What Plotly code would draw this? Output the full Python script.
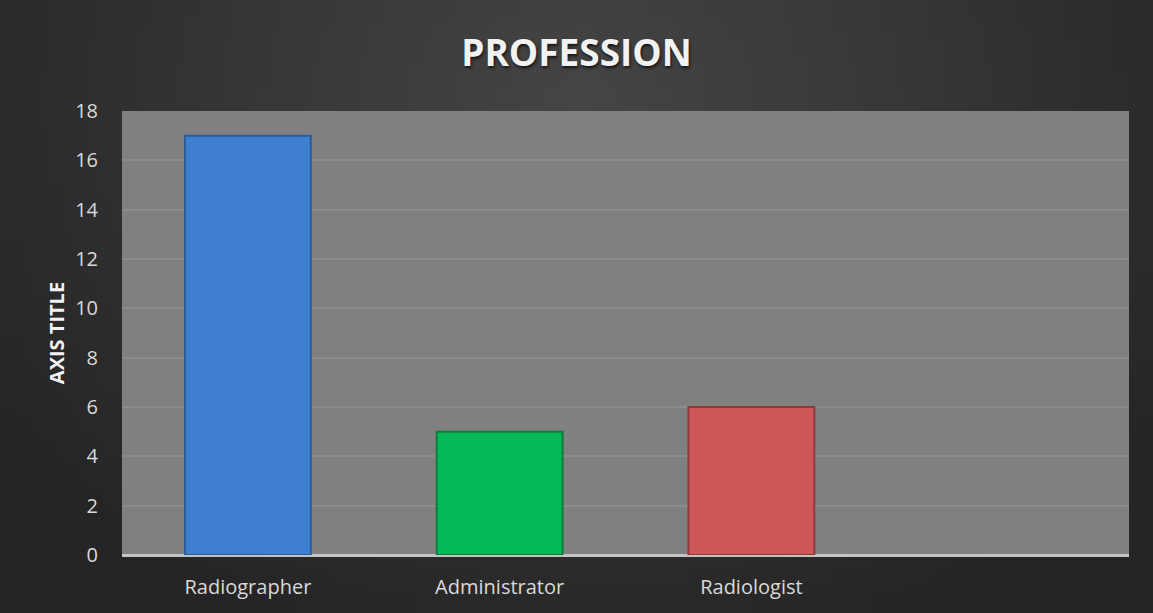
import base64, zlib, struct
import plotly.graph_objects as go

# ---- data ----
categories = ["Radiographer", "Administrator", "Radiologist", " "]
counts = [17, 5, 6, None]
bar_colors = ["#3f7fcf", "#05b956", "#cd5656", "#808080"]
line_colors = ["#2c5d99", "#0b7c3d", "#8e3a3a", "#808080"]
y_ticks = [0, 2, 4, 6, 8, 10, 12, 14, 16, 18]
title_text = "PROFESSION"
y_title = "AXIS TITLE"


# ---- background radial gradient (style only) ----
def gradient_png(w=96, h=52):
    rows = []
    cx, cy = w * 0.5, h * 0.15
    for j in range(h):
        row = bytearray([0])
        for i in range(w):
            dx = (i - cx) / (w * 0.62)
            dy = (j - cy) / (h * 0.95)
            d = min(1.0, (dx * dx + dy * dy) ** 0.5)
            v = int(0x46 - (0x46 - 0x25) * d)
            row += bytes([v, v, v])
        rows.append(bytes(row))
    raw = b"".join(rows)

    def chunk(t, data):
        c = struct.pack(">I", len(data)) + t + data
        return c + struct.pack(">I", zlib.crc32(t + data) & 0xffffffff)

    png = b"\x89PNG\r\n\x1a\n"
    png += chunk(b"IHDR", struct.pack(">IIBBBBB", w, h, 8, 2, 0, 0, 0))
    png += chunk(b"IDAT", zlib.compress(raw, 9))
    png += chunk(b"IEND", b"")
    return "data:image/png;base64," + base64.b64encode(png).decode()


fig = go.Figure()
fig.add_trace(go.Bar(
    x=categories,
    y=counts,
    marker=dict(color=bar_colors, line=dict(color=line_colors, width=2)),
    hoverinfo="x+y",
))

fig.update_layout(
    width=1153,
    height=613,
    margin=dict(l=122, r=24, t=111, b=58),
    paper_bgcolor="#333333",
    plot_bgcolor="#808080",
    showlegend=False,
    bargap=0.5,
    font=dict(family="Open Sans", color="#d9d9d9"),
    title=dict(
        text="<b>" + title_text + "</b>",
        x=0.5, xanchor="center",
        y=0.913, yanchor="middle",
        font=dict(family="Open Sans", size=37, color="#f2f2f2",
                  shadow="1px 2px 3px rgba(0,0,0,0.7)"),
    ),
    images=[dict(
        source=gradient_png(),
        xref="paper", yref="paper",
        x=-122 / 1007, y=1 + 111 / 444,
        sizex=1153 / 1007, sizey=613 / 444,
        xanchor="left", yanchor="top",
        sizing="stretch", layer="below",
    )],
    shapes=[dict(
        type="rect", xref="paper", yref="paper",
        x0=0, x1=1, y0=0, y1=1,
        fillcolor="#808080", line=dict(width=0), layer="below",
    )],
)

fig.update_xaxes(
    type="category",
    showgrid=False,
    showline=False,
    zeroline=False,
    ticks="outside", ticklen=14, tickcolor="rgba(0,0,0,0)",
    tickfont=dict(size=20, color="#d9d9d9"),
)
fig.update_yaxes(
    range=[0, 18],
    tickvals=y_ticks,
    showgrid=True, gridcolor="#8c8c8c", gridwidth=1.5,
    zeroline=True, zerolinecolor="#c4c4c4", zerolinewidth=2.5,
    showline=False,
    ticks="outside", ticklen=19, tickcolor="rgba(0,0,0,0)",
    tickfont=dict(size=20, color="#d9d9d9"),
    title=dict(text="<b>" + y_title + "</b>", font=dict(size=20, color="#f2f2f2"), standoff=5),
)

fig.write_html("out.html", config={"displayModeBar": False},
               post_script="document.body.style.margin='0';")
